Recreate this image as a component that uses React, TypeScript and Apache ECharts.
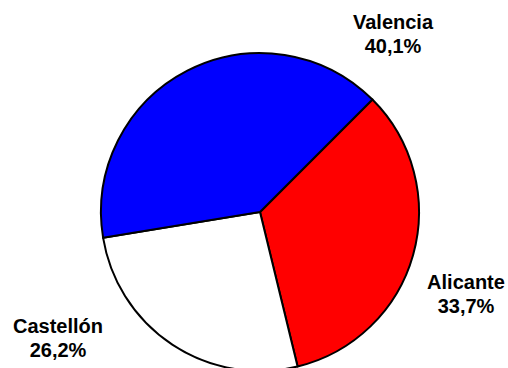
import React, { useEffect, useRef } from "react";
import * as echarts from "echarts";

const categories = ["Alicante", "Castellón", "Valencia"];
const shares = [33.7, 26.2, 40.1];
const colors = ["#FF0000", "#FFFFFF", "#0000FF"];

const labelPositions: [number, number][] = [
  [466, 294],
  [58, 338],
  [393, 34],
];

export default function App() {
  const ref = useRef<HTMLDivElement>(null);
  useEffect(() => {
    document.body.style.margin = "0";
    const chart = echarts.init(ref.current!, null, { renderer: "svg" });
    chart.setOption({
      animation: false,
      backgroundColor: "#FFFFFF",
      series: [
        {
          type: "pie",
          center: [260, 212],
          radius: 159,
          startAngle: 45,
          clockwise: true,
          data: categories.map((c, i) => ({
            name: c,
            value: shares[i],
            itemStyle: { color: colors[i] },
          })),
          itemStyle: { borderColor: "#000000", borderWidth: 2 },
          label: {
            show: true,
            position: "outside",
            formatter: (p: any) =>
              p.name + "\n" + Number(p.value).toFixed(1).replace(".", ",") + "%",
            fontFamily: "Arial, 'Liberation Sans', sans-serif",
            fontWeight: "bold",
            fontSize: 20,
            lineHeight: 24,
            color: "#000000",
            align: "center",
            overflow: "none",
            width: 120,
          },
          labelLine: { show: false },
          labelLayout: (params: any) => ({
            x: labelPositions[params.dataIndex][0],
            y: labelPositions[params.dataIndex][1],
            align: "center",
            verticalAlign: "middle",
          }),
          emphasis: { disabled: true },
        },
      ],
    });
    return () => chart.dispose();
  }, []);
  return <div ref={ref} style={{ width: 508, height: 368 }} />;
}
